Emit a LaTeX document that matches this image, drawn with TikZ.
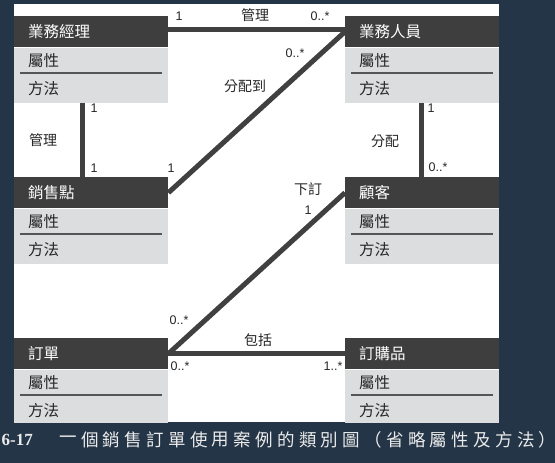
\documentclass[tikz,border=0pt]{standalone}
\usepackage{fontspec}
\setmainfont{Liberation Sans}
\newfontfamily\cjk{Noto Sans CJK TC}
\newfontfamily\capserif{Liberation Serif}
\definecolor{bg}{HTML}{243547}
\definecolor{hdr}{HTML}{3E3E3E}
\definecolor{bodyc}{HTML}{DCDDDF}
\definecolor{ln}{HTML}{404040}
\definecolor{divc}{HTML}{555555}
\tikzset{
  hdrbox/.style={fill=hdr, draw=none, text=white, minimum height=31pt, text width=126pt,
    inner xsep=14pt, inner ysep=0pt, align=left, font=\cjk\fontsize{15.5}{17}\selectfont},
  bodybox/.style={fill=bodyc, draw=none, minimum width=154pt, inner sep=0pt},
  attr/.style={text=black!85, inner sep=0pt, font=\cjk\fontsize{15.5}{17}\selectfont},
  divline/.style={draw=divc, line width=2pt},
  conn/.style={draw=ln, line width=5pt},
  lbl/.style={text=black!85, inner sep=0pt, font=\cjk\fontsize{14}{16}\selectfont},
  num/.style={text=black!85, inner sep=0pt, font=\fontsize{12.5}{14}\selectfont},
  captxt/.style={text=white!92!black, inner sep=0pt, font=\cjk\fontsize{17.5}{19}\selectfont},
}
\newcommand\umlcls[5]{%
  \node[hdrbox, anchor=north west] (#1) at (#2,#3) {#4};
  \node[bodybox, anchor=north west, minimum height=#5] (#1b) at (#1.south west) {};
  \node[attr, anchor=west] (#1a) at ([xshift=14pt,yshift=-13.5pt]#1b.north west) {屬性};
  \node[attr, anchor=west] (#1m) at ([xshift=14pt,yshift=-41.5pt]#1b.north west) {方法};
  \draw[divline] ([xshift=6pt,yshift=-25.5pt]#1b.north west) -- ([xshift=-6pt,yshift=-25.5pt]#1b.north east);
}
\begin{document}
\begin{tikzpicture}[x=1pt,y=-1pt]
\fill[bg] (0,0) rectangle (555,463);
\fill[white] (14,4) rectangle (499,422);
\useasboundingbox (0,0) rectangle (555,463);

\umlcls{mgr}{14}{16}{業務經理}{55pt}
\umlcls{staff}{345}{16}{業務人員}{55pt}
\umlcls{pos}{14}{177}{銷售點}{55pt}
\umlcls{cust}{345}{177}{顧客}{55pt}
\umlcls{order}{14}{338}{訂單}{53pt}
\umlcls{item}{345}{338}{訂購品}{53pt}

% connectors
\draw[conn] ([yshift=2pt]mgr.east) -- ([yshift=2pt]staff.west);
\draw[conn] (pos.east) -- (staff.west);
\draw[conn] ([xshift=-8.5pt]mgrb.south) -- ([xshift=-8.5pt]pos.north);
\draw[conn] ([xshift=-1pt]staffb.south) -- ([xshift=-1pt]cust.north);
\draw[conn] (order.east) -- (cust.west);
\draw[conn] (order.east) -- (item.west);

% labels
\node[num] (n1) at (179,16) {1};
\node[lbl] (l1) at (255,15) {管理};
\node[num] (n2) at (320,16) {0..*};
\node[num] (n3) at (295,53) {0..*};
\node[lbl] (l2) at (245,86) {分配到};
\node[num] (n4) at (94,108) {1};
\node[lbl] (l3) at (43,140) {管理};
\node[num] (n5) at (94,168) {1};
\node[num] (n6) at (171,168) {1};
\node[num] (n7) at (431,108) {1};
\node[lbl] (l4) at (385,141) {分配};
\node[num] (n8) at (438,167) {0..*};
\node[lbl] (l5) at (308,189) {下訂};
\node[num] (n9) at (308,210) {1};
\node[num] (n10) at (179,320) {0..*};
\node[lbl] (l6) at (258,340) {包括};
\node[num] (n11) at (180,366) {0..*};
\node[num] (n12) at (333,366) {1..*};

% caption
\node[anchor=east, inner sep=0pt, text=white!92!black, font=\capserif\bfseries\fontsize{17}{19}\selectfont] (capnum) at (33,440) {6-17};
\foreach \c [count=\i from 0] in {一,個,銷,售,訂,單,使,用,案,例,的,類,別,圖,（,省,略,屬,性,及,方,法,）}
  \node[captxt] (cap\i) at (68+21.8*\i,440) {\c};
\end{tikzpicture}
\end{document}
